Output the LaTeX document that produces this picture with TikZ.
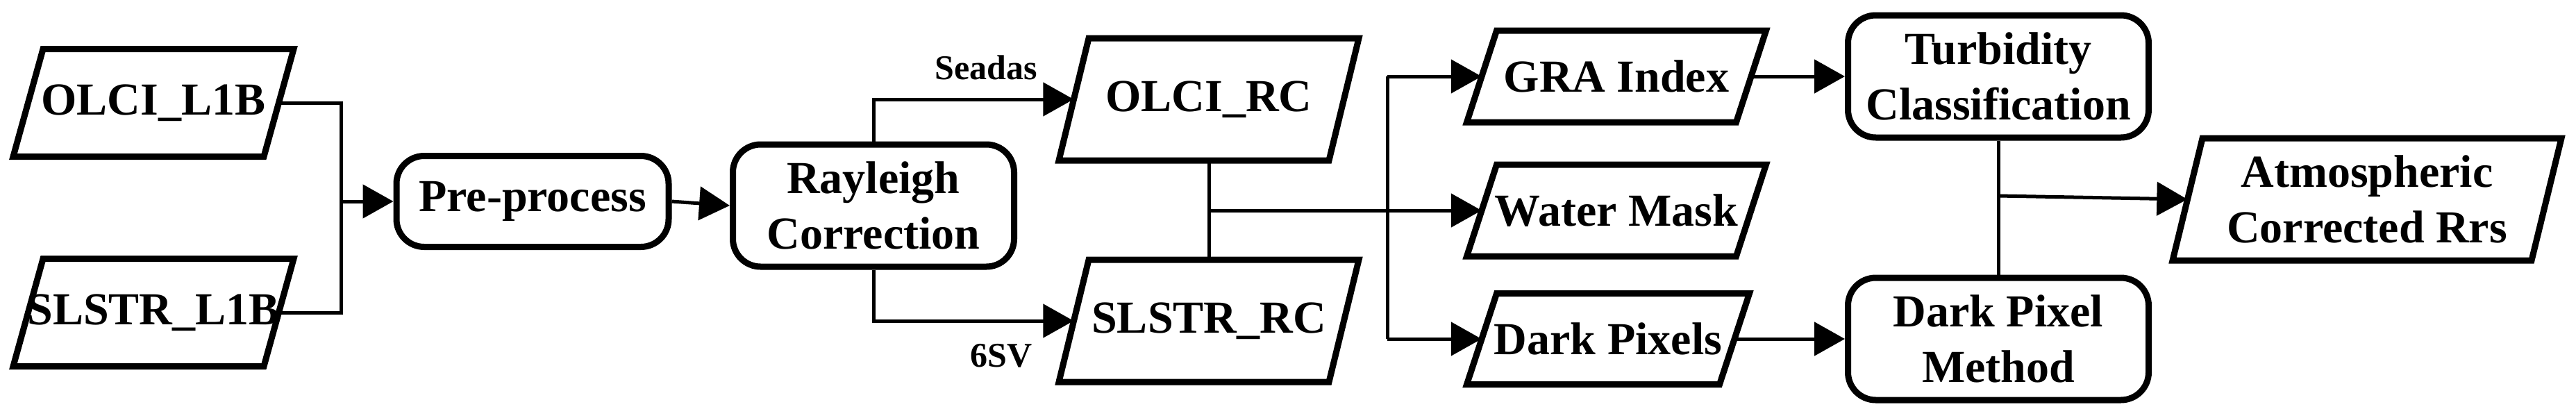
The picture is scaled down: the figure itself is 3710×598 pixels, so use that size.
\documentclass[tikz,border=0pt]{standalone}
\usepackage{fontspec}
\setmainfont{Liberation Serif}
\usetikzlibrary{arrows.meta}

\begin{document}
\begin{tikzpicture}[x=1pt,y=-1pt,
  box/.style={draw=none, minimum width=#1, minimum height=0pt, inner sep=0pt,
    align=center, font=\fontsize{66}{80}\selectfont\bfseries},
  rbox/.style={draw, line width=9pt, rounded corners=40pt, minimum width=#1,
    inner sep=0pt, align=center, font=\fontsize{66}{80}\selectfont\bfseries},
  para/.style={draw, line width=9pt, line join=miter},
  conn/.style={line width=5pt},
  arr/.style={conn, -{Triangle[length=44pt,width=48pt]}},
  lab/.style={font=\fontsize{50}{56}\selectfont\bfseries}]
\useasboundingbox (0,0) rectangle (3710,598);

% parallelogram around a named rectangle node
\def\slant{43}
\newcommand\parabox[2]{%
  \draw[para] ($(#1.center)+(-#2/2-\slant/2,0)$) ++(0,0) coordinate (tmp) ;}
\def\paradraw#1#2#3{% name, half mid-width, half height
  \draw[para] ([shift={(-#2-\slant/2,#3)}]#1.center) -- ([shift={(-#2+\slant/2,-#3)}]#1.center)
    -- ([shift={(#2+\slant/2,-#3)}]#1.center) -- ([shift={(#2-\slant/2,#3)}]#1.center) -- cycle;}

\node[box=361pt, minimum height=155pt] (o1) at (221,148) {OLCI\_L1B};
\node[box=361pt, minimum height=155pt] (s1) at (221,450) {SLSTR\_L1B};
\node[rbox=392pt, minimum height=131pt] (pp) at (767,290) {Pre-process};
\node[rbox=405pt, minimum height=176pt] (ray) at (1258,296) {Rayleigh\\Correction};
\node[box=389pt, minimum height=176pt] (orc) at (1741,143) {OLCI\_RC};
\node[box=389pt, minimum height=176pt] (src) at (1741,462) {SLSTR\_RC};
\node[box=388pt, minimum height=132pt] (gra) at (2328,110) {GRA Index};
\node[box=388pt, minimum height=132pt] (wm) at (2328,303) {Water Mask};
\node[box=364pt, minimum height=131pt] (dp) at (2316,488) {Dark Pixels};
\node[rbox=433pt, minimum height=176pt] (tc) at (2878,110) {Turbidity\\Classification};
\node[rbox=433pt, minimum height=176pt] (dpm) at (2878,488) {Dark Pixel\\Method};
\node[box=517pt, minimum height=176pt] (atm) at (3409,287) {Atmospheric\\Corrected Rrs};

\paradraw{o1}{180.5}{77.5}
\paradraw{s1}{180.5}{77.5}
\paradraw{orc}{194.5}{88}
\paradraw{src}{194.5}{88}
\paradraw{gra}{194}{66}
\paradraw{wm}{194}{66}
\paradraw{dp}{182}{65.5}
\paradraw{atm}{258.5}{88}

\node[lab] (seadas) at (1420,97) {Seadas};
\node[lab] (sixsv) at (1442,512) {6SV};

\coordinate (j1) at (491,290);
\coordinate (j2) at (1741,303);
\coordinate (bt) at (1998,110);
\coordinate (bb) at (1998,488);
\coordinate (j3) at (2878,282);

\draw[conn] (o1.east) -| (j1);
\draw[conn] (s1.east) -| (j1);
\draw[arr] (j1) -- (pp.west);
\draw[arr] (pp.east) -- (ray.west);
\draw[arr] (ray.north) |- (orc.west);
\draw[arr] (ray.south) |- (src.west);
\draw[conn] (orc.south) -- (src.north);
\draw[arr] (j2) -- (wm.west);
\draw[conn] (bt) -- (bb);
\draw[arr] (bt) -- (gra.west);
\draw[arr] (bb) -- (dp.west);
\draw[arr] (gra.east) -- (tc.west);
\draw[arr] (dp.east) -- (dpm.west);
\draw[conn] (tc.south) -- (dpm.north);
\draw[arr] (j3) -- (atm.west);
\end{tikzpicture}
\end{document}
